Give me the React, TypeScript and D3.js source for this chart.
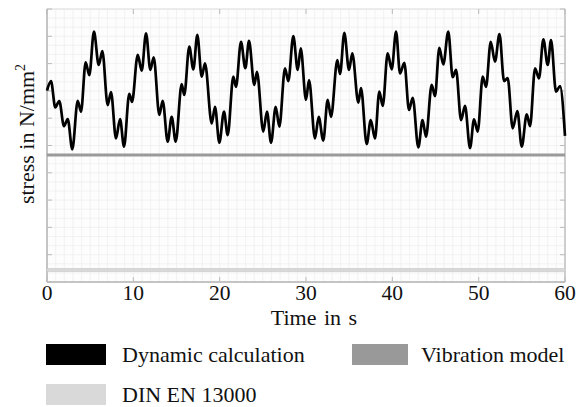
import React from "react";
import * as d3 from "d3";

// Time (s) of read-off turning points of the dynamic calculation
const timeS = [
  0, 0.46, 0.96, 1.42, 1.97, 2.4, 2.93, 3.56, 3.94, 4.48, 4.9, 5.44, 5.99, 6.41, 7.03, 7.41, 7.99, 8.46, 8.92, 9.53,
  9.85, 10.51, 10.97, 11.47, 11.97, 12.36, 13.01, 13.4, 13.98, 14.44, 14.91, 15.6, 15.9, 16.48, 16.95, 17.41, 17.92,
  18.3, 19.08, 19.46, 19.96, 20.5, 20.93, 21.58, 21.89, 22.47, 22.97, 23.4, 24.01, 24.32, 25.05, 25.48, 25.95, 26.49,
  26.91, 27.57, 27.95, 28.53, 29.04, 29.39, 30.0, 30.35, 31.04, 31.47, 32.0, 32.51, 32.9, 33.63, 33.94, 34.44, 34.98,
  35.36, 36.06, 36.37, 37.03, 37.5, 37.99, 38.49, 38.89, 39.46, 39.93, 40.43, 40.89, 41.39, 41.93, 42.36, 43.01, 43.5,
  43.9, 44.56, 44.94, 45.44, 45.9, 46.48, 46.99, 47.38, 47.96, 48.42, 49.0, 49.46, 49.89, 50.47, 50.85, 51.4, 51.89,
  52.41, 52.94, 53.36, 53.94, 54.48, 54.99, 55.57, 55.95, 56.53, 56.99, 57.49, 58.0, 58.38, 58.96, 59.42, 60.0,
];
// Stress (relative units, axis has no labels)
const dynamicStress = [
  70.1, 73.6, 64.0, 66.3, 57.1, 59.7, 48.6, 66.4, 62.4, 80.5, 75.8, 91.7, 79.5, 84.6, 64.8, 69.6, 52.6, 59.7, 49.6, 68.9,
  66.0, 83.2, 77.4, 91.1, 77.7, 82.3, 61.2, 66.4, 51.4, 60.5, 51.4, 72.5, 68.5, 86.2, 77.9, 90.5, 75.2,
  80.1, 58.1, 64.2, 51.0, 62.4, 53.8, 75.2, 71.5, 88.0, 78.3, 88.3, 72.2, 77.0, 55.1, 62.4, 51.0, 64.2,
  56.9, 78.3, 73.6, 90.1, 77.7, 85.6, 66.7, 74.0, 52.6, 60.5, 51.8, 66.7, 60.5, 81.3, 76.2, 91.3, 77.7,
  83.8, 65.7, 71.0, 50.5, 59.3, 52.6, 69.7, 64.5, 83.8, 77.9, 91.7, 76.4, 80.3, 63.0, 67.5, 49.3, 59.3,
  53.2, 72.2, 68.1, 85.8, 79.7, 91.7, 75.0, 77.7, 59.3, 64.5, 49.0, 59.6, 55.1, 75.2, 71.5, 88.0, 80.7,
  90.8, 73.6, 74.7, 56.3, 62.6, 49.6, 61.4, 57.1, 78.3, 74.6, 88.9, 79.5, 88.6, 69.7, 71.8, 53.5,
];
const vibrationModel = 46.5;
const dinEn13000 = 4.4;

const xTicks = [0, 10, 20, 30, 40, 50, 60];
const yTicks = [0, 10, 20, 30, 40, 50, 60, 70, 80, 90, 100];

const legendItems = ["Dynamic calculation", "Vibration model", "DIN EN 13000"];
const legendColors = ["#000000", "#999999", "#d9d9d9"];

export default function App() {
  const W = 580;
  const H = 407;
  const left = 47, right = 565, top = 9, bottom = 282;
  const x = d3.scaleLinear().domain([0, 60]).range([left, right]);
  const y = d3.scaleLinear().domain([0, 100]).range([bottom, top]);

  const data = timeS.map((t, i) => [t, dynamicStress[i]] as [number, number]);
  const line = d3
    .line<[number, number]>()
    .x((d) => x(d[0]))
    .y((d) => y(d[1]))
    .curve(d3.curveMonotoneX);

  const minorX = d3.range(0, 60.001, 1);
  const minorY = d3.range(0, 100.001, 10 / 3);
  const font = "'Liberation Serif', 'Times New Roman', serif";

  const legendPos = [
    { rx: 46, ry: 344, w: 60, tx: 122 },
    { rx: 352, ry: 344, w: 56, tx: 421 },
    { rx: 46, ry: 384, w: 60, tx: 122 },
  ];

  return (
    <svg
      width={W}
      height={H}
      style={{ position: "absolute", left: 0, top: 0, background: "#fff" }}
      fontFamily={font}
    >
      <rect x={left} y={top} width={right - left} height={bottom - top} fill="#fdfdfd" />
      {minorX.map((v) => (
        <line key={"gx" + v} x1={x(v)} x2={x(v)} y1={top} y2={bottom} stroke="#efefef" strokeWidth={0.8} />
      ))}
      {minorY.map((v, i) => (
        <line key={"gy" + i} x1={left} x2={right} y1={y(v)} y2={y(v)} stroke="#efefef" strokeWidth={0.8} />
      ))}
      {/* frame */}
      <rect x={left} y={top} width={right - left} height={bottom - top} fill="none" stroke="#e0e0e0" strokeWidth={1} />
      <line x1={left} x2={left} y1={top} y2={bottom} stroke="#c4c4c4" strokeWidth={2} />
      <line x1={left} x2={right} y1={bottom} y2={bottom} stroke="#c4c4c4" strokeWidth={2} />
      <line x1={right} x2={right} y1={top} y2={bottom} stroke="#c4c4c4" strokeWidth={1.5} />
      {/* ticks */}
      {xTicks.map((v) => (
        <g key={"xt" + v}>
          <line x1={x(v)} x2={x(v)} y1={bottom} y2={bottom - 5} stroke="#bbb" strokeWidth={1} />
          <line x1={x(v)} x2={x(v)} y1={top} y2={top + 5} stroke="#bbb" strokeWidth={1} />
          <text x={x(v)} y={300} fontSize={21.5} textAnchor="middle" fill="#111">
            {v}
          </text>
        </g>
      ))}
      {yTicks.map((v) => (
        <g key={"yt" + v}>
          <line x1={left} x2={left + 5} y1={y(v)} y2={y(v)} stroke="#bbb" strokeWidth={1} />
          <line x1={right} x2={right - 5} y1={y(v)} y2={y(v)} stroke="#bbb" strokeWidth={1} />
        </g>
      ))}
      {/* DIN EN 13000 */}
      <line x1={left} x2={right} y1={y(dinEn13000)} y2={y(dinEn13000)} stroke="#c8c8c8" strokeWidth={3.5} />
      <line x1={left} x2={right} y1={y(dinEn13000)} y2={y(dinEn13000)} stroke="#dedede" strokeWidth={1.5} />
      {/* Vibration model */}
      <line x1={left} x2={right} y1={y(vibrationModel)} y2={y(vibrationModel)} stroke="#9a9a9a" strokeWidth={3} />
      {/* Dynamic calculation */}
      <path d={line(data) || ""} fill="none" stroke="#000" strokeWidth={2.7} strokeLinejoin="round" />

      {/* axis titles */}
      <text x={(left + right) / 2 + 8} y={325} fontSize={22} textAnchor="middle" fill="#111" wordSpacing={2}>
        Time in s
      </text>
      <text transform={`translate(34,134) rotate(-90)`} fontSize={22} textAnchor="middle" fill="#111">
        stress in N/mm<tspan dy={-9} fontSize={14}>2</tspan>
      </text>

      {/* legend */}
      {legendItems.map((name, i) => (
        <g key={name}>
          <rect x={legendPos[i].rx} y={legendPos[i].ry} width={legendPos[i].w} height={21} fill={legendColors[i]} />
          <text x={legendPos[i].tx} y={legendPos[i].ry + 18} fontSize={22} fill="#111">
            {name}
          </text>
        </g>
      ))}
    </svg>
  );
}
